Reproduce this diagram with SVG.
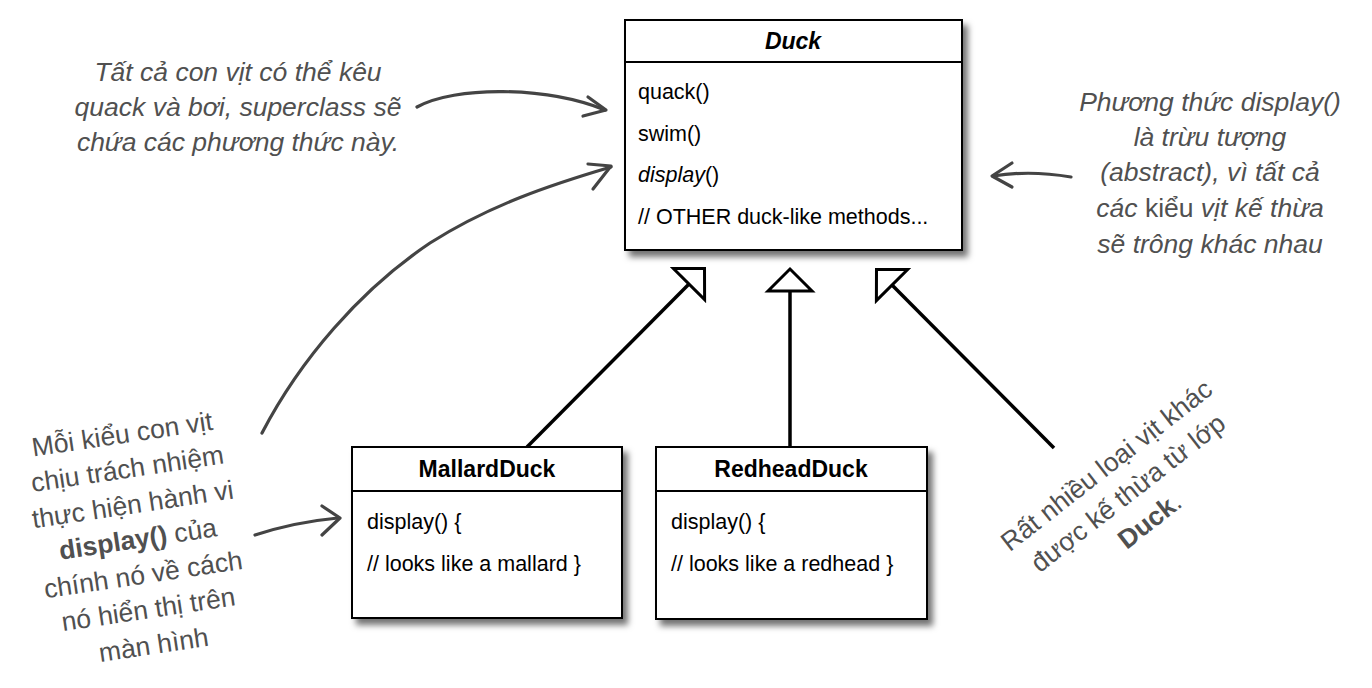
<svg xmlns="http://www.w3.org/2000/svg" width="1372" height="688" viewBox="0 0 1372 688">
<defs>
<filter id="sh" x="-10%" y="-10%" width="125%" height="125%">
<feDropShadow dx="5" dy="6" stdDeviation="3" flood-color="#000" flood-opacity="0.55"/>
</filter>
<marker id="gen" viewBox="-2 -2 26 48" refX="0" refY="22" markerWidth="26" markerHeight="48" markerUnits="userSpaceOnUse" orient="auto" overflow="visible">
<path d="M0,0 L22,22 L0,44 Z" fill="#fff" stroke="#000" stroke-width="3" stroke-linejoin="miter"/>
</marker>
</defs>
<style>
.box{fill:#fff;stroke:#000;stroke-width:2}
.sep{stroke:#000;stroke-width:2}
.title{font-family:"Liberation Sans",Arial,sans-serif;font-size:23px;font-weight:bold;fill:#000;text-anchor:middle}
.body{font-family:"Liberation Sans",Arial,sans-serif;font-size:21.5px;fill:#000}
.note{font-family:"Liberation Sans",Arial,sans-serif;font-size:26.5px;fill:#505050;text-anchor:middle}
.it{font-style:italic}
.gen{stroke:#000;stroke-width:3.5;fill:none}
.hand{stroke:#444;stroke-width:3.2;fill:none;stroke-linecap:round;stroke-linejoin:round}
</style>
<rect width="1372" height="688" fill="#fff"/>

<g id="connectors">
<line class="gen" x1="527" y1="447" x2="689" y2="284" marker-end="url(#gen)"/>
<line class="gen" x1="790" y1="447" x2="790" y2="291" marker-end="url(#gen)"/>
<line class="gen" x1="1054" y1="448" x2="892" y2="285" marker-end="url(#gen)"/>
<path class="hand" d="M417,107 C455,86 545,86 605,110"/>
<path class="hand" d="M588,97 L606,110 L583,116"/>
<path class="hand" d="M262,433 C300,360 360,290 430,243 C490,205 550,185 611,167"/>
<path class="hand" d="M588,164 L611,166 L593,189"/>
<path class="hand" d="M255,535 Q295,522 338,518"/>
<path class="hand" d="M322,506 L340,518 L322,535"/>
<path class="hand" d="M1071,177 Q1030,170 993,176"/>
<path class="hand" d="M1012,163 L992,176 L1012,187"/>
</g>

<g id="duck">
<rect class="box" x="625" y="20" width="337" height="230" filter="url(#sh)"/>
<line class="sep" x1="625" y1="62" x2="962" y2="62"/>
<text class="title it" x="793" y="49" font-size="24">Duck</text>
<text class="body" x="638" y="99">quack()</text>
<text class="body" x="638" y="141">swim()</text>
<text class="body" x="638" y="182"><tspan class="it">display</tspan>()</text>
<text class="body" x="638" y="224">// OTHER duck-like methods...</text>
</g>

<g id="mallard">
<rect class="box" x="352" y="447" width="270" height="171" filter="url(#sh)"/>
<line class="sep" x1="352" y1="491" x2="622" y2="491"/>
<text class="title" x="487" y="477">MallardDuck</text>
<text class="body" x="367" y="529">display() {</text>
<text class="body" x="367" y="571">// looks like a mallard }</text>
</g>

<g id="redhead">
<rect class="box" x="656" y="447" width="271" height="172" filter="url(#sh)"/>
<line class="sep" x1="656" y1="491" x2="927" y2="491"/>
<text class="title" x="791" y="477">RedheadDuck</text>
<text class="body" x="671" y="529">display() {</text>
<text class="body" x="671" y="571">// looks like a redhead }</text>
</g>

<g id="note-top-left">
<text class="note it" x="238" y="81">Tất cả con vịt có thể kêu</text>
<text class="note it" x="238" y="116">quack và bơi, superclass sẽ</text>
<text class="note it" x="238" y="151">chứa các phương thức này.</text>
</g>

<g id="note-right">
<text class="note it" x="1210" y="111">Phương thức display()</text>
<text class="note it" x="1210" y="146">là trừu tượng</text>
<text class="note it" x="1210" y="181">(abstract), vì tất cả</text>
<text class="note it" x="1210" y="217">các <tspan font-style="normal">kiểu</tspan> vịt kế thừa</text>
<text class="note it" x="1210" y="253">sẽ trông khác nhau</text>
</g>

<g id="note-bottom-left" transform="rotate(-8.5 138 540)">
<text class="note" x="138" y="442">Mỗi kiểu con vịt</text>
<text class="note" x="138" y="477">chịu trách nhiệm</text>
<text class="note" x="138" y="513">thực hiện hành vi</text>
<text class="note" x="138" y="548"><tspan font-weight="bold">display()</tspan> của</text>
<text class="note" x="138" y="584">chính nó về cách</text>
<text class="note" x="138" y="619">nó hiển thị trên</text>
<text class="note" x="138" y="655">màn hình</text>
</g>

<g id="note-bottom-right" transform="rotate(-38 1128 493)">
<text class="note" x="1128" y="467">Rất nhiều loại vịt khác</text>
<text class="note" x="1128" y="502">được kế thừa từ lớp</text>
<text class="note" x="1128" y="537"><tspan font-weight="bold">Duck</tspan>.</text>
</g>
</svg>
